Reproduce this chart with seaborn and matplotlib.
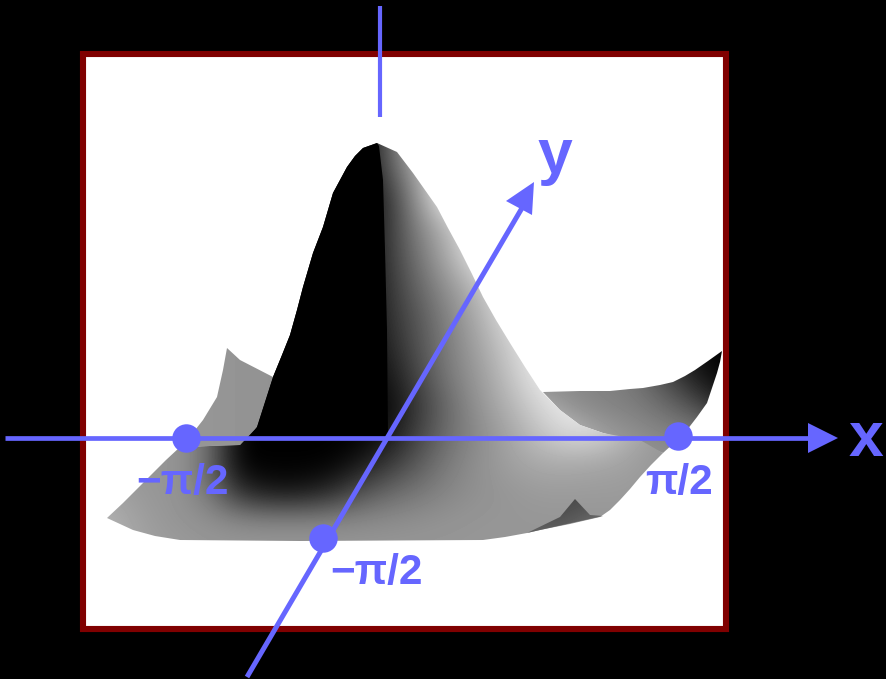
import numpy as np
import matplotlib
matplotlib.use("Agg")
import matplotlib.pyplot as plt
from matplotlib.patches import Polygon, Rectangle
import pandas as pd
import seaborn as sns

BLUE = "#6666FF"
W = 255

# ---- surface tone tables (grey levels) ----
body_x = [90,120,150,180,210,240,270,300,330,360,390,420,450,480,510,540,570,600,630,660,690,720]
body_y = [140,170,200,230,260,290,320,350,380,410,440,470,500,530,550]
body_tone = [
 [0,0,0,0,0,0,0,0,0,0,100,210,W,W,W,W,W,W,W,W,W,W],
 [0,0,0,0,0,0,0,0,0,0,90,175,W,W,W,W,W,W,W,W,W,W],
 [0,0,0,0,0,0,0,0,0,0,55,160,W,W,W,W,W,W,W,W,W,W],
 [0,0,0,0,0,0,0,0,0,0,60,135,185,W,W,W,W,W,W,W,W,W],
 [0,0,0,0,0,0,0,0,0,0,60,120,175,235,W,W,W,W,W,W,W,W],
 [0,0,0,0,0,0,0,0,0,0,55,105,150,190,245,W,W,W,W,W,W,W],
 [0,0,0,0,0,0,0,0,0,0,50,90,135,175,225,W,W,W,W,W,W,W],
 [0,0,0,0,0,0,0,0,0,0,40,85,128,165,205,240,W,W,W,W,W,W],
 [0,0,0,0,0,0,0,0,0,0,25,75,125,155,195,235,245,W,W,W,W,W],
 [0,0,0,0,0,0,0,0,0,0,10,60,110,150,180,215,235,225,205,185,W,W],
 [150,150,150,150,120,0,0,0,0,0,20,70,112,140,165,195,220,215,175,150,150,150],
 [150,150,150,150,100,0,0,0,0,20,55,92,125,145,160,170,170,165,160,150,150,150],
 [165,160,150,148,120,45,20,20,40,80,105,120,135,145,150,155,155,155,155,150,150,150],
 [185,170,155,148,145,140,138,138,138,140,142,145,148,150,150,150,150,150,150,150,150,150],
 [190,175,160,155,150,150,150,150,150,150,150,150,150,150,150,150,150,150,150,150,150,150],
]
body_outline_x = [377,363,355,347,340,333,328,323,318,313,308,303,297,290,282,273,265,257,240,180,166,153,138,123,107,120,133,155,180,300,483,505,527,540,570,600,610,620,630,640,651,663,640,603,580,560,540,525,510,496,483,472,460,448,437,425,413,397]
body_outline_y = [143,148,156,167,180,193,210,227,240,253,270,287,310,335,355,377,402,427,445,447,460,473,488,503,518,524,530,536,540,541,540,537,533,530,524,517,510,500,489,477,465,453,440,433,425,410,390,367,343,320,297,274,250,228,207,190,173,152]

# fully shadowed flank of the hump, ending at the sharp ridge
shadow_outline_x = [377,363,355,347,340,333,328,323,318,313,308,303,297,290,282,273,265,257,249,388,387,385,383,379]
shadow_outline_y = [143,148,156,167,180,193,210,227,240,253,270,287,310,335,355,377,402,427,438,438,330,250,180,146]

right_x = [540,575,610,645,680,700,725]
right_y = [345,375,405,435,465]
right_tone = [
 [135,135,130,120,60,15,0],
 [135,135,130,120,75,25,0],
 [170,140,130,125,110,80,30],
 [215,190,160,145,135,130,120],
 [215,190,160,150,145,140,135],
]
right_outline_x = [543,580,610,630,643,660,673,685,695,708,722,720,717,712,707,697,687,675,663,630,603,580,560]
right_outline_y = [392,391,391,389,388,385,382,376,370,361,351,362,373,388,403,417,430,442,453,440,433,425,410]

left_x = [220,280]
left_y = [340,450]
left_tone = [[150,145],[150,145]]
left_outline_x = [227,240,273,257,240,180,192,203,217,223]
left_outline_y = [348,360,377,427,445,447,434,420,397,370]

front_x = [525,560,605]
front_y = [495,515,535]
front_tone = [[70,70,75],[80,75,110],[110,95,130]]
front_outline_x = [575,590,603,540,527,560]
front_outline_y = [499,515,516,530,533,517]

# ---- axes, marks and labels ----
x_axis_x = [5, 812]
x_axis_y = [438, 438]
x_head_x = [838, 808, 808]
x_head_y = [438, 423, 453]
y_axis_x = [247, 522]
y_axis_y = [677, 208]
y_head_x = [534, 506, 532]
y_head_y = [182, 201, 215]
z_axis_x = [380, 380]
z_axis_y = [6, 117]
dot_x = [186, 678, 323]
dot_y = [438, 436, 538]
label_text = ["\u2212\u03c0/2", "\u03c0/2", "\u2212\u03c0/2"]
label_x = [136, 645, 330]
label_y = [494, 494, 584]
axis_names = ["x", "y"]
name_x = [849, 538]
name_y = [456, 173]

sns.set_theme(style="white")
plt.rcParams["font.family"] = ["Liberation Sans", "DejaVu Sans"]

fig = plt.figure(figsize=(8.86, 6.79), dpi=100, facecolor="black")
ax = fig.add_axes([0, 0, 1, 1])
ax.set_xlim(0, 886)
ax.set_ylim(679, 0)
ax.set_facecolor("black")
ax.axis("off")

ax.add_patch(Rectangle((83, 54), 643, 575, facecolor="white", edgecolor="#800000", linewidth=4.4, zorder=1))


def shade(xs, ys, tone, ox, oy, z):
    dx = (xs[-1] - xs[0]) / (len(xs) - 1) / 2
    dy = (ys[-1] - ys[0]) / (len(ys) - 1) / 2
    im = ax.imshow(np.array(tone, dtype=float), cmap="gray", vmin=0, vmax=255,
                   extent=(xs[0] - dx, xs[-1] + dx, ys[-1] + dy, ys[0] - dy),
                   interpolation="bicubic", aspect="auto", zorder=z)
    poly = Polygon(np.column_stack([ox, oy]), closed=True, transform=ax.transData,
                   facecolor="none", edgecolor="none")
    ax.add_patch(poly)
    im.set_clip_path(poly)


shade(left_x, left_y, left_tone, left_outline_x, left_outline_y, 2)
shade(right_x, right_y, right_tone, right_outline_x, right_outline_y, 2)
shade(body_x, body_y, body_tone, body_outline_x, body_outline_y, 3)
ax.fill(shadow_outline_x, shadow_outline_y, color="black", linewidth=0, zorder=3.5)
shade(front_x, front_y, front_tone, front_outline_x, front_outline_y, 4)
ax.set_xlim(0, 886)
ax.set_ylim(679, 0)

for xs, ys, lw in [(x_axis_x, x_axis_y, 3.4), (y_axis_x, y_axis_y, 3.6), (z_axis_x, z_axis_y, 3.0)]:
    sns.lineplot(data=pd.DataFrame({"px": xs, "py": ys}), x="px", y="py", sort=False,
                 estimator=None, color=BLUE, linewidth=lw, ax=ax, zorder=6,
                 solid_capstyle="butt", legend=False)
ax.fill(x_head_x, x_head_y, color=BLUE, zorder=6, linewidth=0)
ax.fill(y_head_x, y_head_y, color=BLUE, zorder=6, linewidth=0)
sns.scatterplot(x=dot_x, y=dot_y, s=420, color=BLUE, linewidth=0, ax=ax, zorder=7, legend=False)

for t, lx, ly in zip(label_text, label_x, label_y):
    ax.text(lx, ly, t, color=BLUE, fontsize=30.5, fontweight="bold", ha="left", va="baseline", zorder=8)
for t, lx, ly in zip(axis_names, name_x, name_y):
    ax.text(lx, ly, t, color=BLUE, fontsize=45, fontweight="bold", ha="left", va="baseline", zorder=8)

ax.set_xlabel("")
ax.set_ylabel("")
ax.set_xlim(0, 886)
ax.set_ylim(679, 0)
ax.axis("off")
fig.savefig("out.png", dpi=100, facecolor="black")
